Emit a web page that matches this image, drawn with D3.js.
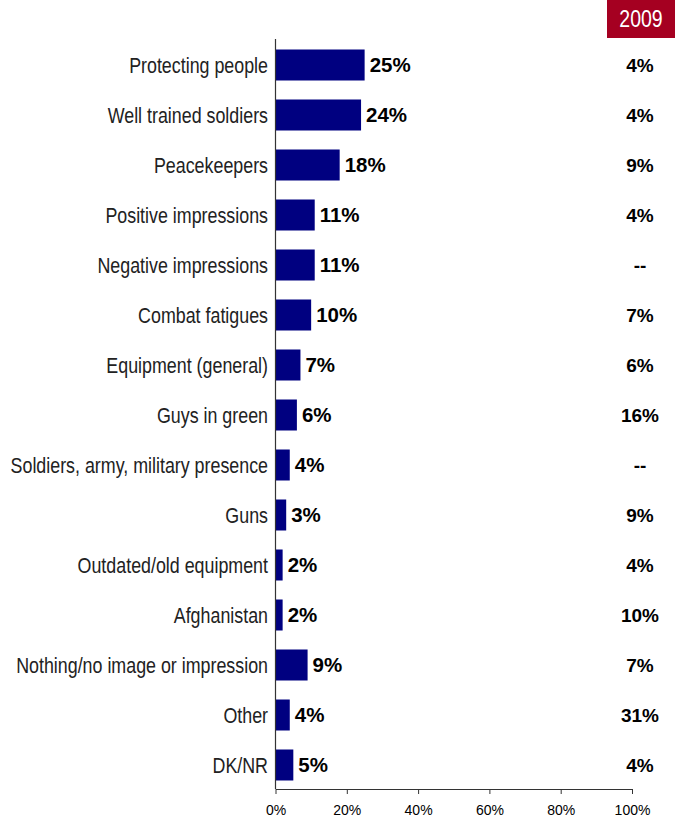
<!DOCTYPE html>
<html><head><meta charset="utf-8">
<script src="https://cdn.jsdelivr.net/npm/d3@7"></script>
<style>body{margin:0;background:#fff}svg{display:block}</style>
</head><body>
<script>
const categories = ["Protecting people","Well trained soldiers","Peacekeepers","Positive impressions","Negative impressions","Combat fatigues","Equipment (general)","Guys in green","Soldiers, army, military presence","Guns","Outdated/old equipment","Afghanistan","Nothing/no image or impression","Other","DK/NR"];
const values = [25,24,18,11,11,10,7,6,4,3,2,2,9,4,5];
const values2009 = ["4%","4%","9%","4%","--","7%","6%","16%","--","9%","4%","10%","7%","31%","4%"];
const tickValues = [0,20,40,60,80,100];
const badgeLabel = "2009";

const W = 675, H = 820;
const narrow = 0.83;
const svg = d3.select("body").append("svg").attr("width", W).attr("height", H);
const x = d3.scaleLinear().domain([0,100]).range([275.5, 632]);
const y = d3.scaleBand().domain(categories).range([40, 790]).paddingInner(0.38).paddingOuter(0.19);

// badge
svg.append("rect").attr("x",607).attr("y",0).attr("width",68).attr("height",38).attr("fill","#A50021");
svg.append("text").attr("transform",`translate(641,19) scale(${narrow},1)`).attr("text-anchor","middle").attr("dy","0.36em")
  .attr("font-family","'Liberation Sans',Arial,sans-serif").attr("font-size",23.5).attr("fill","#fff").text(badgeLabel);

// bars
svg.selectAll("rect.bar").data(values).join("rect").attr("class","bar")
  .attr("x", x(0)).attr("y",(d,i)=>y(categories[i])).attr("width",d=>x(d)-x(0)).attr("height",y.bandwidth()).attr("fill","#000080");

// value labels
svg.selectAll("text.val").data(values).join("text").attr("class","val")
  .attr("x",d=>x(d)+5).attr("y",(d,i)=>y(categories[i])+y.bandwidth()/2).attr("dy","0.36em")
  .attr("font-family","'Liberation Sans',Arial,sans-serif").attr("font-weight","bold").attr("font-size",20.5).attr("fill","#000")
  .text(d=>d+"%");

// 2009 column
svg.selectAll("text.v09").data(values2009).join("text").attr("class","v09")
  .attr("x",640).attr("y",(d,i)=>y(categories[i])+y.bandwidth()/2).attr("dy","0.36em").attr("text-anchor","middle")
  .attr("font-family","'Liberation Sans',Arial,sans-serif").attr("font-weight","bold").attr("font-size",19).attr("fill","#000")
  .text(d=>d);

// category labels (condensed)
svg.selectAll("text.cat").data(categories).join("text").attr("class","cat")
  .attr("transform",d=>`translate(268,${y(d)+y.bandwidth()/2}) scale(${narrow},1)`).attr("dy","0.36em").attr("text-anchor","end")
  .attr("font-family","'Liberation Sans',Arial,sans-serif").attr("font-size",21.5).attr("fill","#222")
  .text(d=>d);

// y axis line
svg.append("line").attr("x1",x(0)).attr("x2",x(0)).attr("y1",39).attr("y2",789).attr("stroke","#333").attr("stroke-width",1.2);

// x axis
const xAxis = d3.axisBottom(x).tickValues(tickValues).tickFormat(d=>d+"%").tickSizeInner(5).tickSizeOuter(0).tickPadding(11);
const gx = svg.append("g").attr("transform","translate(0,789)").call(xAxis);
gx.select(".domain").attr("stroke","#333").attr("stroke-width",1.2);
gx.selectAll(".tick line").attr("stroke","#333");
gx.selectAll(".tick text").attr("font-family","'Liberation Sans',Arial,sans-serif").attr("font-size",14).attr("fill","#000");
</script>
</body></html>
